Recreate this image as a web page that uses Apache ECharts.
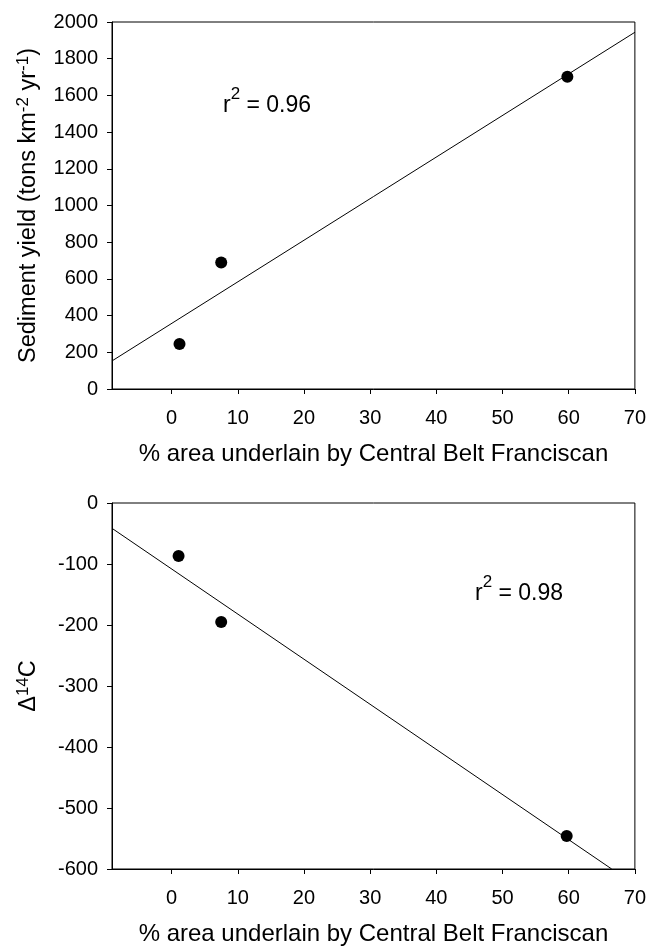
<!DOCTYPE html>
<html>
<head>
<meta charset="utf-8">
<script src="https://cdn.jsdelivr.net/npm/echarts@6/dist/echarts.min.js"></script>
<style>
  html, body { margin: 0; padding: 0; background: #fff; }
  #chart { width: 649px; height: 947px; }
</style>
</head>
<body>
<div id="chart"></div>
<script>
// data
let xTicks = [0, 10, 20, 30, 40, 50, 60, 70];

// top panel: sediment yield
let sedPoints = [[1.2, 245], [7.5, 690], [59.8, 1702]];
let sedFit = [[-9, 153], [70, 1944]];   // fitted line endpoints
let sedR2 = "0.96";

// bottom panel: delta 14C
let c14Points = [[1.06, -87], [7.5, -195], [59.7, -546]];
let c14Fit = [[-9, -41.5], [66.5, -600]];
let c14R2 = "0.98";

let font = "'Liberation Sans', Arial, sans-serif";
let myChart = echarts.init(document.getElementById("chart"), null, { renderer: "canvas" });

let supStyle = { fontSize: 17, verticalAlign: "top", fontFamily: font, color: "#000", padding: [0, 0, 10, 0] };

function xAxisCfg(gridIndex) {
  return {
    type: "value",
    gridIndex: gridIndex,
    min: -9,
    max: 70,
    name: "% area underlain by Central Belt Franciscan",
    nameLocation: "middle",
    nameGap: 53,
    nameTextStyle: { color: "#000", fontSize: 24, fontFamily: font },
    axisLine: { show: true, onZero: false, lineStyle: { color: "#000", width: 1 } },
    axisTick: { show: true, inside: false, length: 5, customValues: xTicks, lineStyle: { color: "#000" } },
    axisLabel: { color: "#000", fontSize: 20, fontFamily: font, margin: 19, customValues: xTicks },
    splitLine: { show: false },
  };
}

function yAxisCfg(gridIndex, min, max, interval, name) {
  return {
    type: "value",
    gridIndex: gridIndex,
    min: min,
    max: max,
    interval: interval,
    name: name,
    nameLocation: "middle",
    nameGap: 70,
    nameTextStyle: { color: "#000", fontSize: 23.5, fontFamily: font, rich: { sup: supStyle } },
    axisLine: { show: true, onZero: false, lineStyle: { color: "#000" } },
    axisTick: { show: true, length: 5, lineStyle: { color: "#000" } },
    axisLabel: {
      color: "#000", fontSize: 20, fontFamily: font, margin: 14,
      formatter: function (v) { return String(v); },
    },
    splitLine: { show: false },
  };
}

function r2Text(left, top, val) {
  return {
    type: "text",
    left: left,
    top: top,
    style: {
      text: "{r|r}{s|2}{r| = " + val + "}",
      rich: {
        r: { fontSize: 23, fontFamily: font, fill: "#000", padding: [8, 0, 0, 0] },
        s: { fontSize: 17, fontFamily: font, fill: "#000", verticalAlign: "top" },
      },
    },
  };
}

let option = {
  animation: false,
  backgroundColor: "#fff",
  grid: [
    { left: 112, top: 22, width: 523, height: 367, show: true, borderColor: "#000", borderWidth: 1 },
    { left: 112, top: 503, width: 523, height: 366, show: true, borderColor: "#000", borderWidth: 1 },
  ],
  xAxis: [xAxisCfg(0), xAxisCfg(1)],
  yAxis: [
    yAxisCfg(0, 0, 2000, 200, "Sediment yield (tons km{sup|-2} yr{sup|-1})"),
    yAxisCfg(1, -600, 0, 100, "\u0394{sup|14}C"),
  ],
  graphic: [r2Text(223, 86, sedR2), r2Text(475, 574, c14R2)],
  series: [
    {
      type: "line",
      xAxisIndex: 0,
      yAxisIndex: 0,
      data: sedFit,
      showSymbol: false,
      lineStyle: { color: "#000", width: 1 },
      z: 2,
    },
    {
      type: "scatter",
      xAxisIndex: 0,
      yAxisIndex: 0,
      data: sedPoints,
      symbolSize: 12,
      itemStyle: { color: "#000", opacity: 1 },
      z: 3,
    },
    {
      type: "line",
      xAxisIndex: 1,
      yAxisIndex: 1,
      data: c14Fit,
      showSymbol: false,
      lineStyle: { color: "#000", width: 1 },
      z: 2,
    },
    {
      type: "scatter",
      xAxisIndex: 1,
      yAxisIndex: 1,
      data: c14Points,
      symbolSize: 12,
      itemStyle: { color: "#000", opacity: 1 },
      z: 3,
    },
  ],
};

myChart.setOption(option);
</script>
</body>
</html>
